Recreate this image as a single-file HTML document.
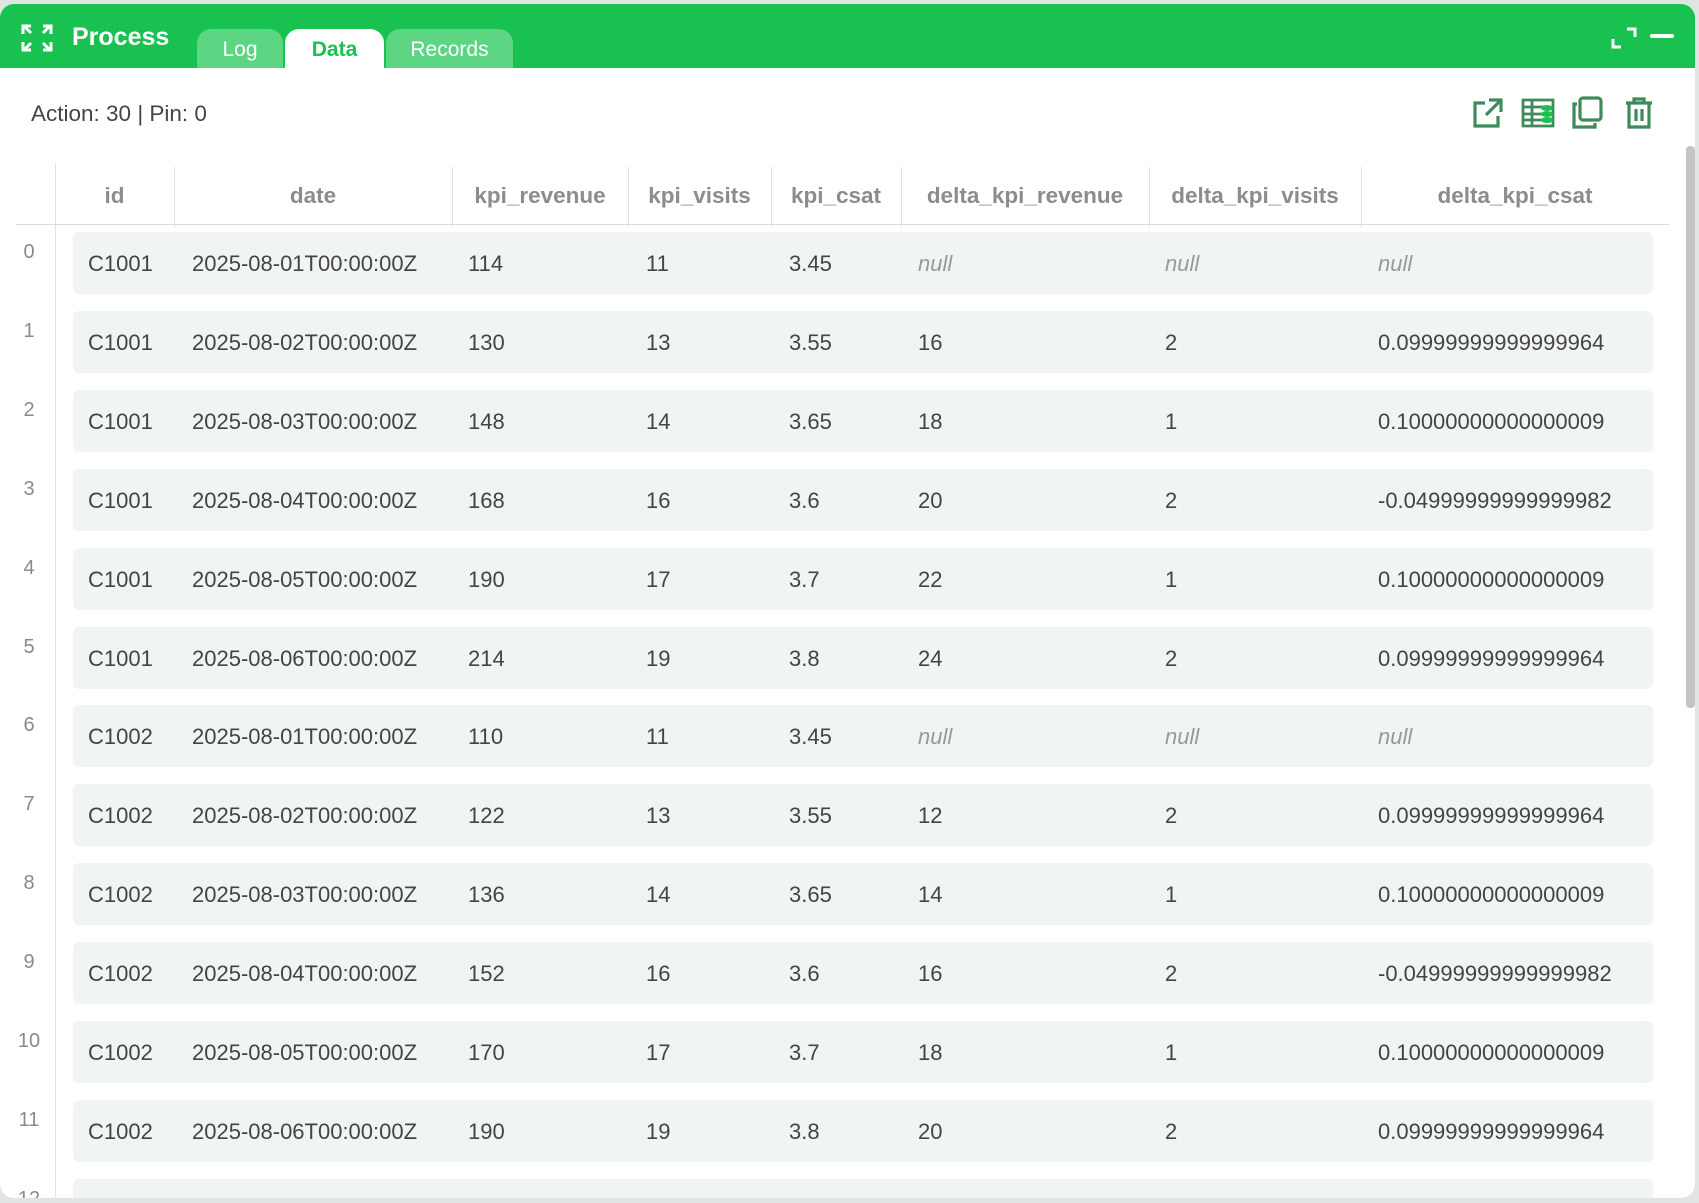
<!DOCTYPE html>
<html><head><meta charset="utf-8">
<style>
*{box-sizing:border-box;margin:0;padding:0}
body{width:1699px;height:1203px;background:#dfe5e1;font-family:"Liberation Sans",sans-serif;position:relative;overflow:hidden}
#panel{position:absolute;left:0;top:4px;width:1695px;height:1194px;background:#fff;border-radius:14px;overflow:hidden}
#bar{position:absolute;left:0;top:0;width:100%;height:64px;background:#19c250}
.tab{position:absolute;top:25px;height:39px;border-radius:14px 14px 0 0;background:#5dd683;color:#fff;font-size:21px;text-align:center;line-height:42px}
.abs{position:absolute}
.hd{position:absolute;top:161px;height:61px;line-height:61px;font-size:22.5px;font-weight:bold;color:#8c8c8c;text-align:center;white-space:nowrap}
.vl{position:absolute;top:163px;width:1px;height:61px;background:#e2e2e2}
.row{position:absolute;left:73px;width:1580px;height:62px;background:#f1f5f2;border-radius:6px}
.cell{position:absolute;font-size:22px;color:#444;line-height:62px;white-space:nowrap}
.null{color:#999;font-style:italic}
.idx{position:absolute;left:14px;width:30px;text-align:center;font-size:20px;color:#8a8a8a}
</style></head><body>
<div id="panel">
 <div id="bar">
  <svg class="abs" style="left:20px;top:18px" width="34" height="32" viewBox="0 0 34 32" fill="none" stroke="#fff" stroke-width="3">
   <path d="M3 12V4h8M4 4l7 7"/><path d="M31 12V4h-8M30 4l-7 7"/><path d="M3 20v8h8M4 28l7-7"/><path d="M31 20v8h-8M30 28l-7-7"/>
  </svg>
  <div class="abs" style="left:72px;top:19px;font-size:25px;font-weight:bold;color:#fff">Process</div>
  <div class="tab" style="left:197px;width:86px">Log</div>
  <div class="tab" style="left:285px;width:99px;background:#fff;color:#19c250;font-weight:bold">Data</div>
  <div class="tab" style="left:386px;width:127px">Records</div>
  <svg class="abs" style="left:1611px;top:22px" width="26" height="24" viewBox="0 0 26 24" fill="none" stroke="#fff" stroke-width="3"><path d="M2 13v8h8M16 3h8v8"/></svg>
  <div class="abs" style="left:1650px;top:30px;width:24px;height:4px;background:#fff;border-radius:2px"></div>
 </div>
 <div class="abs" style="left:31px;top:97px;font-size:22.5px;color:#444">Action: 30 | Pin: 0</div>
 <svg class="abs" style="left:1472px;top:93px" width="32" height="32" viewBox="0 0 32 32" fill="none" stroke="#3f8a5a" stroke-width="3.2"><path d="M13 6H3v23h23V19M17 3h12v12M29 3L14 18"/></svg>
 <svg class="abs" style="left:1521px;top:94px" width="34" height="30" viewBox="0 0 34 30"><g fill="none" stroke="#3f8a5a" stroke-width="2.8"><path d="M2 2h30v26H2zM2 9h22M2 16h22M2 22h22M11 2v26"/></g><g fill="#19c250"><ellipse cx="26" cy="10" rx="6" ry="3"/><ellipse cx="26" cy="16" rx="6" ry="3"/><ellipse cx="26" cy="22" rx="6" ry="3"/></g></svg>
 <svg class="abs" style="left:1571px;top:92px" width="32" height="34" viewBox="0 0 32 34" fill="none" stroke="#3f8a5a" stroke-width="3.2"><rect x="9" y="2" width="21" height="22" rx="3"/><path d="M6 8H3v23h21v-4"/></svg>
 <svg class="abs" style="left:1624px;top:92px" width="30" height="34" viewBox="0 0 30 34" fill="none" stroke="#3f8a5a" stroke-width="3.2"><path d="M2 7h26M10 7V3h10v4M5 7v24h20V7M12 13v12M18 13v12"/></svg>
 <div id="table"></div>
 <div class="abs" style="left:55px;top:159px;width:1px;height:1040px;background:#e2e2e2"></div>
 <div class="abs" style="left:16px;top:220px;width:1653px;height:1px;background:#dcdcdc"></div>
 <div class="abs" style="left:1686px;top:142px;width:9px;height:562px;background:#c4c4c4;border-radius:4px"></div>
</div>
<script>
const columns=["id","date","kpi_revenue","kpi_visits","kpi_csat","delta_kpi_revenue","delta_kpi_visits","delta_kpi_csat"];
const ids=["C1001","C1001","C1001","C1001","C1001","C1001","C1002","C1002","C1002","C1002","C1002","C1002"];
const dates=["2025-08-01T00:00:00Z","2025-08-02T00:00:00Z","2025-08-03T00:00:00Z","2025-08-04T00:00:00Z","2025-08-05T00:00:00Z","2025-08-06T00:00:00Z","2025-08-01T00:00:00Z","2025-08-02T00:00:00Z","2025-08-03T00:00:00Z","2025-08-04T00:00:00Z","2025-08-05T00:00:00Z","2025-08-06T00:00:00Z"];
const revenue=[114,130,148,168,190,214,110,122,136,152,170,190];
const visits=[11,13,14,16,17,19,11,13,14,16,17,19];
const csat=["3.45","3.55","3.65","3.6","3.7","3.8","3.45","3.55","3.65","3.6","3.7","3.8"];
const dRevenue=[null,16,18,20,22,24,null,12,14,16,18,20];
const dVisits=[null,2,1,2,1,2,null,2,1,2,1,2];
const dCsat=[null,"0.09999999999999964","0.10000000000000009","-0.04999999999999982","0.10000000000000009","0.09999999999999964",null,"0.09999999999999964","0.10000000000000009","-0.04999999999999982","0.10000000000000009","0.09999999999999964"];
const t=document.getElementById('table');
const lines=[55,174,452,628,771,901,1149,1361,1669];
const textX=[88,192,468,646,789,918,1165,1378];
columns.forEach((c,i)=>{
 const h=document.createElement('div');h.className='hd';
 h.style.left=lines[i]+'px';h.style.width=(lines[i+1]-lines[i])+'px';h.textContent=c;
 
 
 t.appendChild(h);
 if(i>0){const v=document.createElement('div');v.className='vl';v.style.left=lines[i]+'px';
 
 
 t.appendChild(v);}
});
const rowY=i=>228+i*78.9;
const cols=[ids,dates,revenue,visits,csat,dRevenue,dVisits,dCsat];
for(let i=0;i<13;i++){
 const y=rowY(i);
 const ix=document.createElement('div');ix.className='idx';ix.style.top=(y+9)+'px';ix.textContent=i;
 
 
 t.appendChild(ix);
 const r=document.createElement('div');r.className='row';r.style.top=y+'px';
 
 
 t.appendChild(r);
 if(i>=ids.length)continue;
 cols.forEach((arr,j)=>{
  const c=document.createElement('div');c.className='cell';
  c.style.left=textX[j]+'px';c.style.top=(y+1)+'px';
  const v=arr[i];
  if(v===null){c.textContent='null';c.classList.add('null');}else c.textContent=v;
  
  
  t.appendChild(c);
 });
}
</script>
</body></html>
